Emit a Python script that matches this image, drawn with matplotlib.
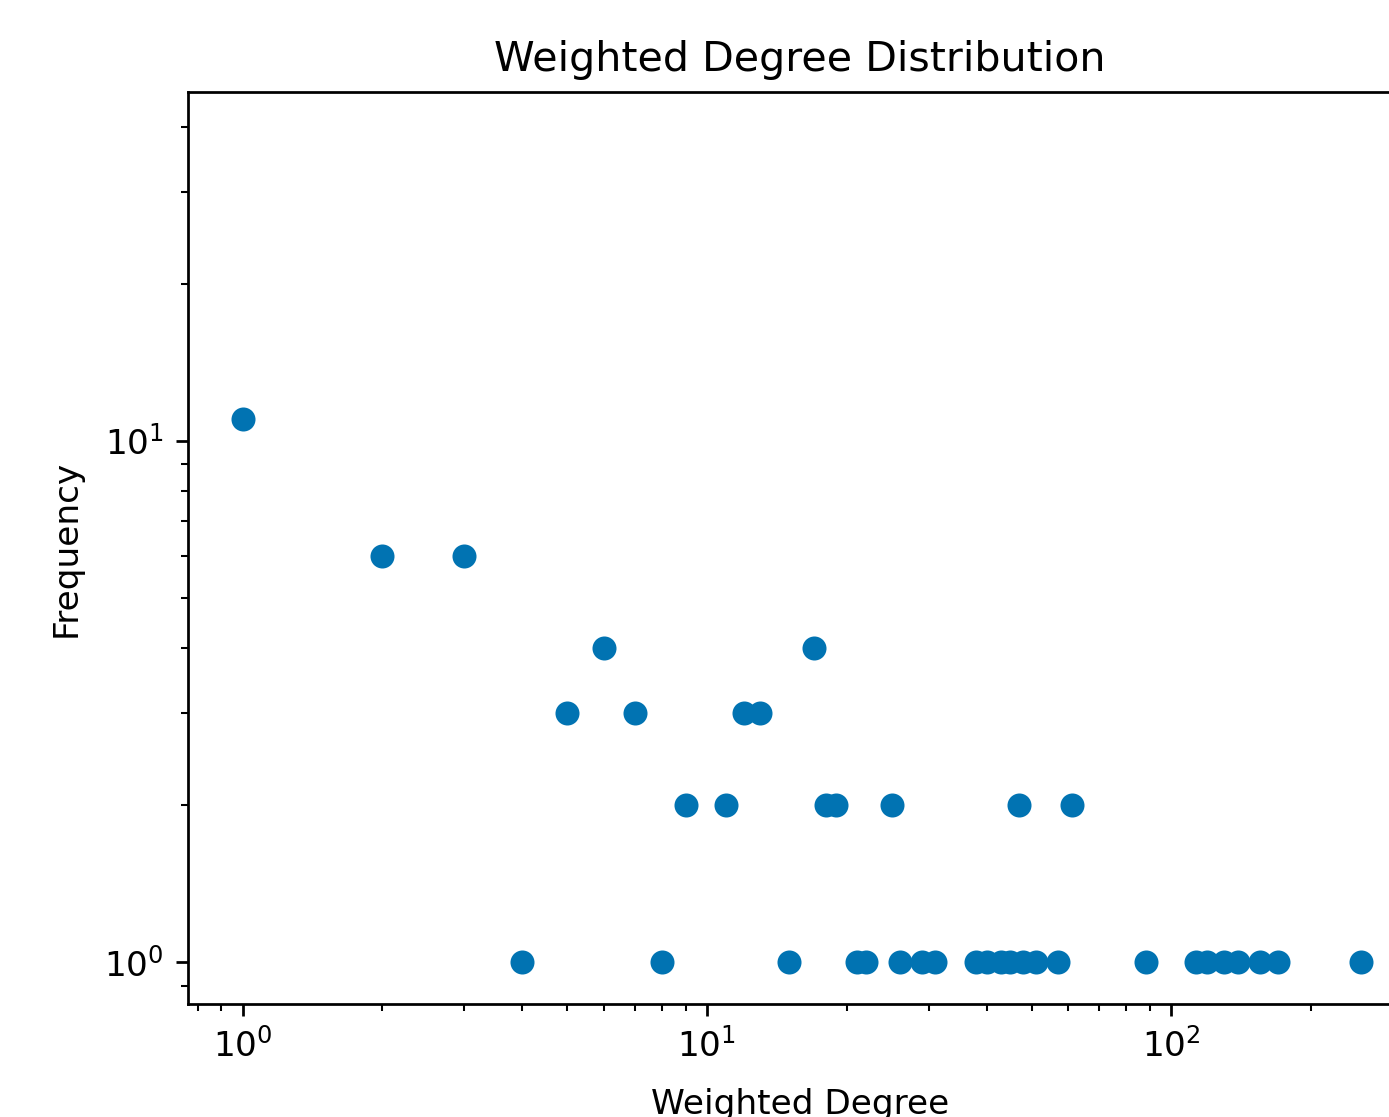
import matplotlib
matplotlib.use("Agg")
import matplotlib.pyplot as plt

# Weighted degree values and their frequency
degree_f1 = [4, 8, 15, 21, 22, 26, 29, 31, 38, 40, 43, 45, 48, 51, 57, 88,
             113, 119, 130, 139, 155, 170, 256]
degree_f2 = [9, 11, 18, 19, 25, 47, 61]
degree_f3 = [5, 7, 12, 13]
degree_f4 = [6, 17]
degree_f6 = [2, 3]
degree_f11 = [1]

degrees = degree_f11 + degree_f6 + degree_f4 + degree_f3 + degree_f2 + degree_f1
freqs = ([11] * len(degree_f11) + [6] * len(degree_f6) + [4] * len(degree_f4)
         + [3] * len(degree_f3) + [2] * len(degree_f2) + [1] * len(degree_f1))

DPI = 247
W, H = 1389, 1117
fig = plt.figure(figsize=(W / DPI, H / DPI), dpi=DPI)
ax = fig.add_axes([188 / W, (H - 1004) / H, 1224 / W, 912 / H])

ax.scatter(degrees, freqs, color="#0173B2")
ax.set_xscale("log")
ax.set_yscale("log")
ax.set_xlim(0.763, 329.6)
ax.set_ylim(0.831, 46.6)
ax.spines["right"].set_visible(False)
ax.set_title("Weighted Degree Distribution")
ax.set_xlabel("Weighted Degree", labelpad=7)
ax.set_ylabel("Frequency", labelpad=6.3)

fig.savefig("out.png", dpi=DPI)
